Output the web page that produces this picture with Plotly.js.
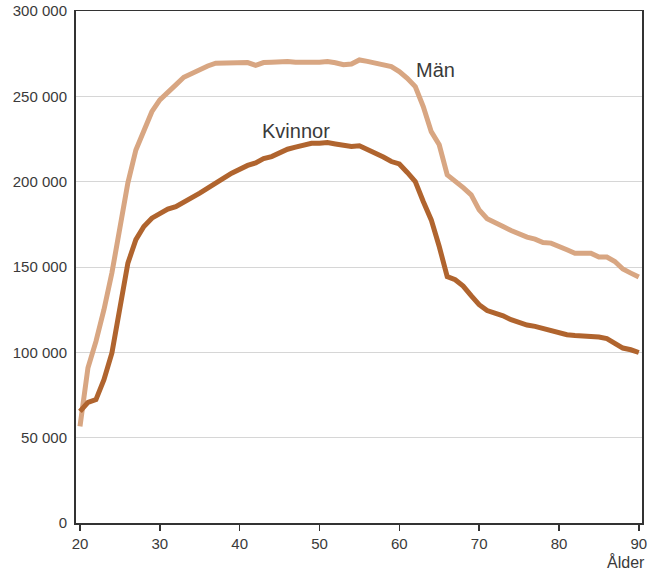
<!DOCTYPE html>
<html>
<head>
<meta charset="utf-8">
<script src="https://cdn.plot.ly/plotly-3.0.1.min.js"></script>
<style>html,body{margin:0;padding:0;background:#fff;}#chart{width:649px;height:570px;}</style>
</head>
<body>
<div id="chart"></div>
<script>
const ages = [];
for (let a = 20; a <= 90; a++) ages.push(a);

const man = [
  56600, 91000, 106400, 125000, 146600, 171800, 199300, 218600, 230300, 241000,
  247900, 252800, 256700, 261200, 263500, 265900, 267800, 269400, 269400, 270000,
  270000, 269800, 268200, 269800, 270000, 270400, 270400, 270000, 269700, 269900,
  270000, 270400, 269700, 268500, 268900, 271300, 270500, 269400, 267800, 267400,
  264500, 260600, 255700, 244000, 229300, 221600, 204000, 200500, 196500, 192300,
  183500, 178300, 175700, 173700, 171400, 169400, 167500, 166300, 164300, 164000,
  161700, 160100, 158100, 158100, 158100, 155800, 155800, 153200, 148800, 146400,
  144100
];

const kvinnor = [
  65400, 70700, 72300, 84000, 99600, 126900, 152300, 166000, 173700, 178600,
  181600, 183900, 185400, 187800, 190300, 193300, 196200, 199500, 202100, 205000,
  207300, 209500, 211000, 213500, 214700, 217000, 219000, 220200, 221700, 222500,
  222500, 222900, 222100, 221400, 220600, 221000, 219000, 216700, 214400, 211800,
  210400, 205400, 200100, 188400, 177600, 162000, 144400, 142500, 138800, 133200,
  127900, 124500, 123000, 121400, 119100, 117200, 116000, 115200, 114000, 112800,
  111300, 110300, 109900, 109700, 109300, 109000, 108100, 105400, 102500, 101500,
  99900
];

const yTickVals = [0, 50000, 100000, 150000, 200000, 250000, 300000];
const yTickText = ["0", "50 000", "100 000", "150 000", "200 000", "250 000", "300 000"];
const xTickVals = [20, 30, 40, 50, 60, 70, 80, 90];

const fam = "Liberation Sans, Arial, sans-serif";
const txt = "#3a3a3a";

const traces = [
  {x: ages, y: man, type: "scatter", mode: "lines", name: "Män",
   line: {color: "#d8a682", width: 5}},
  {x: ages, y: kvinnor, type: "scatter", mode: "lines", name: "Kvinnor",
   line: {color: "#b0642e", width: 5}}
];

const layout = {
  width: 649, height: 570,
  margin: {l: 76, r: 7, t: 11, b: 47},
  paper_bgcolor: "#ffffff", plot_bgcolor: "#ffffff",
  showlegend: false,
  font: {family: fam, color: txt, size: 15},
  xaxis: {
    range: [19.5, 90.4], tickvals: xTickVals, ticks: "outside", ticklen: 6,
    tickcolor: "#333", tickwidth: 1.5, showgrid: false, zeroline: false,
    showline: true, linecolor: "#333", linewidth: 1.5, mirror: true,
    tickfont: {family: fam, color: txt, size: 15}
  },
  yaxis: {
    range: [0, 300000], tickvals: yTickVals, ticktext: yTickText,
    ticks: "", showgrid: true, gridcolor: "#d6d6d6", gridwidth: 1,
    zeroline: false, showline: true, linecolor: "#333", linewidth: 2, mirror: true,
    ticklabelstandoff: 4,
    tickfont: {family: fam, color: txt, size: 15}
  },
  annotations: [
    {x: 61.9, y: 265500, xref: "x", yref: "y", text: "Män", showarrow: false,
     xanchor: "left", font: {family: fam, color: txt, size: 20}},
    {x: 42.6, y: 229700, xref: "x", yref: "y", text: "Kvinnor", showarrow: false,
     xanchor: "left", font: {family: fam, color: txt, size: 20}},
    {x: 1.009, y: 0, xref: "paper", yref: "paper", text: "Ålder", showarrow: false,
     xanchor: "right", yanchor: "top", yshift: -28,
     font: {family: fam, color: txt, size: 16}}
  ]
};

Plotly.newPlot("chart", traces, layout, {displayModeBar: false, staticPlot: true});
</script>
</body>
</html>
